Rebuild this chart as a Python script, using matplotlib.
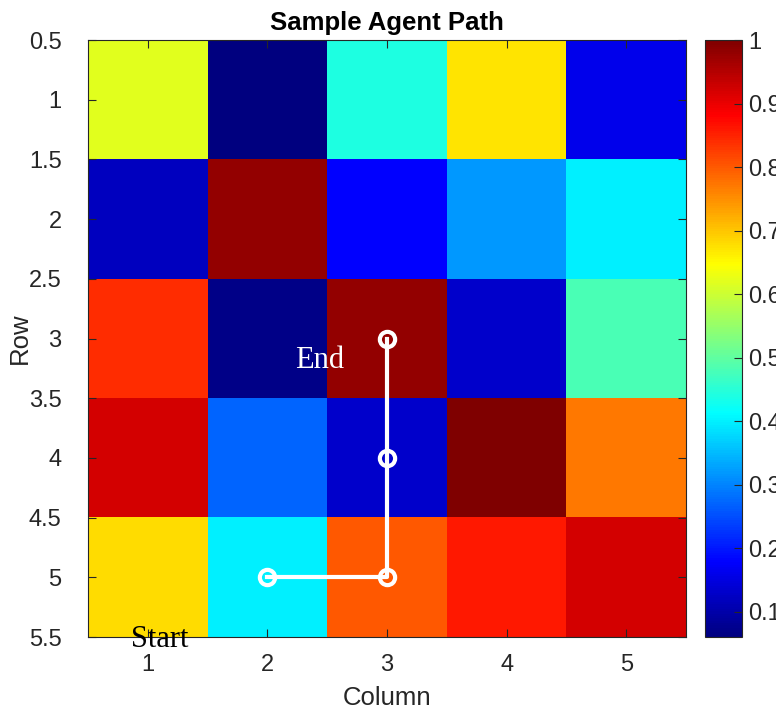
import matplotlib.pyplot as plt
from matplotlib.colors import LinearSegmentedColormap
import numpy as np

# grid values (rows 1..5, columns 1..5)
grid = np.array([
    [0.62, 0.06, 0.44, 0.67, 0.16],
    [0.12, 0.98, 0.18, 0.32, 0.40],
    [0.84, 0.07, 0.98, 0.13, 0.48],
    [0.92, 0.27, 0.13, 1.00, 0.77],
    [0.68, 0.40, 0.80, 0.86, 0.92],
])
path_cols = [2, 3, 3, 3]
path_rows = [5, 5, 4, 3]
cbar_ticks = [0.1, 0.2, 0.3, 0.4, 0.5, 0.6, 0.7, 0.8, 0.9, 1]

# MATLAB style jet
jet_m = LinearSegmentedColormap.from_list('jet_m', [
    (0.0, (0, 0, 0.5)), (1 / 8, (0, 0, 1)), (3 / 8, (0, 1, 1)),
    (5 / 8, (1, 1, 0)), (7 / 8, (1, 0, 0)), (1.0, (0.5, 0, 0))], N=256)

plt.rcParams['font.family'] = ['Liberation Sans', 'DejaVu Sans']
tc = '#262626'

fig = plt.figure(figsize=(7.76, 7.10), dpi=100)
ax = fig.add_axes([0.1134, 0.1028, 0.7706, 0.8408])
cax = fig.add_axes([705 / 776, 0.1028, 37 / 776, 0.8408])

im = ax.imshow(grid, cmap=jet_m, vmin=grid.min(), vmax=grid.max(),
               extent=(0.5, 5.5, 5.5, 0.5), aspect='auto', interpolation='nearest')

ax.plot(path_cols, path_rows, '-o', color='white', linewidth=3,
        markersize=11, markeredgewidth=3, markerfacecolor='none')

ax.text(2.23, 3.18, 'End', color='white', fontsize=22, family='Liberation Serif',
        ha='left', va='center')
ax.text(0.86, 5.52, 'Start', color='black', fontsize=22, family='Liberation Serif',
        ha='left', va='center', clip_on=False, zorder=5)

ax.set_xticks([1, 2, 3, 4, 5])
ax.set_yticks(np.arange(0.5, 5.51, 0.5))
ax.set_yticklabels(['0.5', '1', '1.5', '2', '2.5', '3', '3.5', '4', '4.5', '5', '5.5'])
ax.tick_params(direction='in', top=True, right=True, labelsize=17, colors=tc,
               length=6, width=0.8)
ax.tick_params(axis='x', pad=12.5)
ax.tick_params(axis='y', pad=19)
for s in ax.spines.values():
    s.set_color(tc)
    s.set_linewidth(0.8)

ax.set_title('Sample Agent Path', fontsize=18.5, fontweight='bold', pad=7)
ax.set_xlabel('Column', fontsize=18.5, color=tc)
ax.set_ylabel('Row', fontsize=18.5, color=tc)
ax.xaxis.set_label_coords(0.5, -0.082)
ax.yaxis.set_label_coords(-0.094, 0.5)

cb = fig.colorbar(im, cax=cax)
cb.set_ticks(cbar_ticks)
cb.set_ticklabels(['0.1', '0.2', '0.3', '0.4', '0.5', '0.6', '0.7', '0.8', '0.9', '1'])
cax.tick_params(direction='in', labelsize=17, colors=tc, length=6, width=0.8, pad=4.5)
cb.outline.set_linewidth(0.8)
cb.outline.set_edgecolor(tc)

plt.savefig('out.png', dpi=100)
